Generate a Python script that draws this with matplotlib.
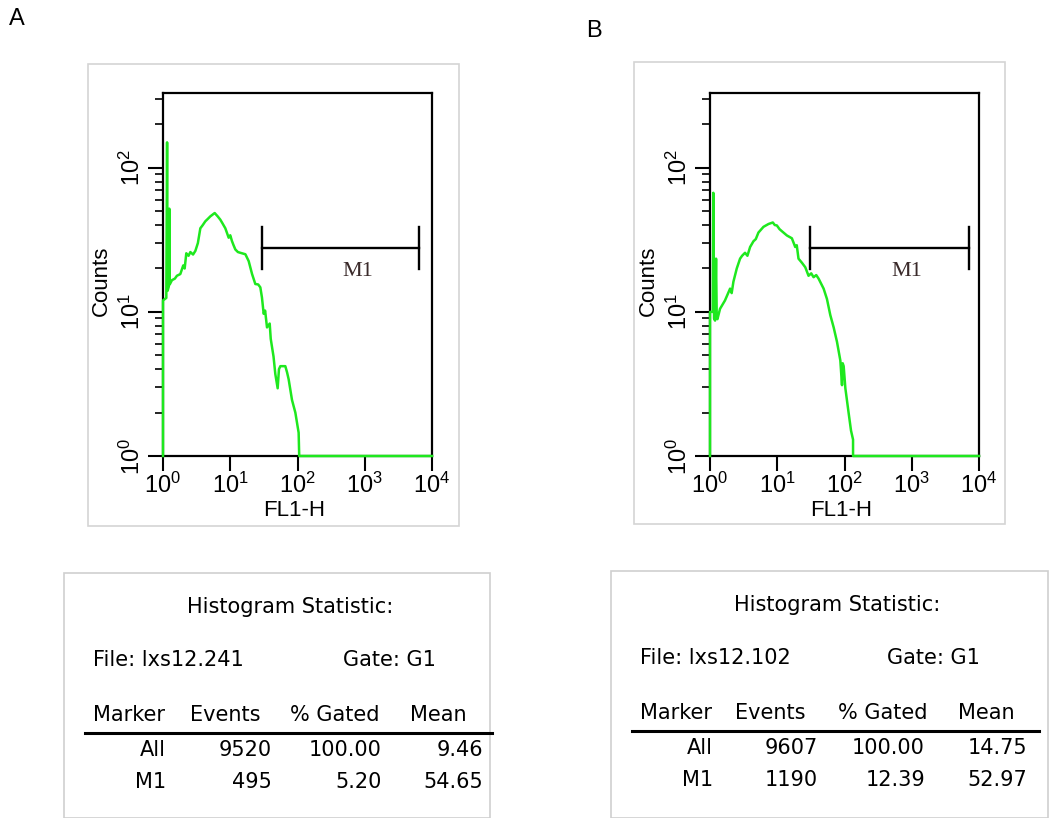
import numpy as np
import matplotlib.pyplot as plt
from matplotlib.patches import Rectangle

plt.rcParams['font.family'] = ['Liberation Sans', 'DejaVu Sans']
plt.rcParams['mathtext.fontset'] = 'custom'
plt.rcParams['mathtext.rm'] = 'Liberation Sans'
plt.rcParams['mathtext.it'] = 'Liberation Sans'

# histogram traces (FL1-H channel value, counts)
a_fl1 = [1.0, 1.0, 1.12, 1.15, 1.17, 1.22, 1.24, 1.26, 1.36, 1.5, 1.61, 1.81, 2.0, 2.1,
         2.22, 2.4, 2.55, 2.8, 3.03, 3.3, 3.59, 3.9, 4.26, 4.6, 5.06, 5.87, 6.5, 7.12,
         7.7, 8.45, 9.0, 9.47, 10.0, 10.6, 11.2, 11.9, 13.0, 14.1, 16.8, 18.8, 21.1,
         23.6, 26.0, 28.0, 29.6, 31.4, 33.0, 35.2, 38.6, 40.0, 41.8, 44.0, 46.8, 50.7,
         53.0, 55.6, 65.9, 70.0, 73.9, 82.8, 92.9, 104, 106, 10000]
a_counts = [1, 12, 12.5, 150, 14, 15, 52, 15.5, 16.6, 17, 17.8, 18.3, 21, 20, 25.5,
            24.5, 26, 25, 26.5, 30, 38, 40, 42.5, 44, 46, 48.5, 46, 43.6, 41, 38, 35,
            32.7, 34, 31, 29, 27.1, 26, 25.7, 25.1, 22.5, 18.3, 15.6, 15.5, 14.8, 12.6,
            9.7, 10.2, 7.8, 8.3, 6.5, 5.7, 4.9, 3.7, 2.95, 4.0, 4.2, 4.2, 3.8, 3.4, 2.45,
            2.0, 1.45, 1, 1]

b_fl1 = [1.0, 1.0, 1.1, 1.12, 1.15, 1.19, 1.23, 1.26, 1.29, 1.41, 1.67, 1.99, 2.1,
         2.23, 2.5, 2.8, 3.0, 3.32, 3.6, 3.95, 4.43, 4.8, 5.25, 6.24, 7.41, 8.59, 9.2,
         9.86, 10.8, 11.7, 13.9, 16.5, 18.5, 19.5, 20.7, 23.3, 26.1, 29.2, 32.0, 34.7,
         38.0, 41.2, 48.9, 54.8, 61.5, 69.0, 77.3, 86.7, 91.8, 94.0, 97.2, 103, 115,
         125, 134, 134, 10000]
b_counts = [1, 10, 10, 67, 9, 8.7, 23.4, 9, 8.9, 10.5, 12, 14.5, 13.5, 16.2, 20, 23.4,
            24.5, 25.7, 24.5, 28.2, 30.9, 32, 35.5, 38.9, 40.7, 41.7, 40, 39.8, 37.5,
            36.3, 33.9, 32.4, 28.2, 29, 23.4, 21.9, 20.4, 17.8, 18.5, 17.4, 18, 17,
            14.5, 12.3, 9.5, 7.8, 6.2, 4.6, 3.1, 4.4, 4.2, 2.95, 2.0, 1.5, 1.3, 1, 1]

# M1 marker: start, end on FL1-H, height in counts
a_m1 = [29.4, 6460, 27.6]
b_m1 = [31.0, 7100, 27.7]

# statistics tables
stat_cols = ['Marker', 'Events', '% Gated', 'Mean']
a_file = 'lxs12.241'
b_file = 'lxs12.102'
a_rows = [['All', '9520', '100.00', '9.46'], ['M1', '495', '5.20', '54.65']]
b_rows = [['All', '9607', '100.00', '14.75'], ['M1', '1190', '12.39', '52.97']]

W, H = 1050, 818
fig = plt.figure(figsize=(10.5, 8.18), dpi=100)
TFONT = 'DejaVu Sans'


def fx(px):
    return px / W


def fy(py):
    return 1 - py / H


def panel(left, fl1, counts, m1):
    ax = fig.add_axes([fx(left), fy(456), fx(269), 363 / H])
    ax.plot(fl1, counts, color='#1ee81e', lw=1.8, clip_on=False, zorder=5)
    ax.set_xscale('log')
    ax.set_yscale('log')
    ax.set_xlim(1, 1e4)
    ax.set_ylim(1, 330)
    for s in ax.spines.values():
        s.set_linewidth(1.6)
    ax.set_xticks([1, 10, 100, 1000, 10000])
    ax.set_xticklabels(['$10^0$', '$10^1$', '$10^2$', '$10^3$', '$10^4$'])
    ax.set_yticks([1, 10, 100])
    ax.set_yticklabels(['$10^0$', '$10^1$', '$10^2$'], rotation=90, va='center')
    ax.tick_params(which='major', length=11, width=1.5, labelsize=17, pad=1)
    ax.tick_params(which='minor', length=6, width=1.2)
    ax.tick_params(axis='y', which='major', pad=2)
    # M1 gate bar
    x0, x1, yh = m1
    ax.plot([x0, x1], [yh, yh], color='black', lw=1.7)
    ax.plot([x0, x0], [yh * 1.4, yh / 1.4], color='black', lw=1.7)
    ax.plot([x1, x1], [yh * 1.4, yh / 1.4], color='black', lw=1.7)
    ax.text(np.sqrt(x0 * x1) * 1.82, yh / 1.45, 'M1', family='Liberation Serif',
            fontsize=16, color='#3a2a2a', ha='center', va='center')
    return ax


def stats(left, right, top, fname, rows, hx, xs, gate_x, title_x):
    fig.patches.append(Rectangle((fx(left), 0), fx(right - left), fy(top),
                                 transform=fig.transFigure, fill=False,
                                 edgecolor='#cfcfcf', lw=1.2))
    fig.text(fx(title_x), fy(top + 34), 'Histogram Statistic:', fontsize=15,
             family=TFONT, ha='center', va='center')
    fig.text(fx(hx[0]), fy(top + 87), 'File: ' + fname, fontsize=15, family=TFONT,
             va='center')
    fig.text(fx(gate_x), fy(top + 87), 'Gate: G1', fontsize=15, family=TFONT,
             va='center')
    # header
    for c, x in zip(stat_cols, hx):
        fig.text(fx(x), fy(top + 142), c, fontsize=15, family=TFONT, va='center')
    fig.add_artist(plt.Line2D([fx(left + 21), fx(left + 428)], [fy(top + 160)] * 2,
                              color='black', lw=2.2))
    for i, r in enumerate(rows):
        yy = fy(top + 177 + i * 32)
        for v, x in zip(r, xs):
            fig.text(fx(x), yy, v, fontsize=15, family=TFONT, va='center', ha='right')


panel(163, a_fl1, a_counts, a_m1)
panel(710, b_fl1, b_counts, b_m1)

# light frames around each plot
for l, t, r, b in [(88, 64, 459, 526), (634, 62, 1005, 524)]:
    fig.patches.append(Rectangle((fx(l), fy(b)), fx(r - l), (b - t) / H,
                                 transform=fig.transFigure, fill=False,
                                 edgecolor='#d4d4d4', lw=1.2))

for x0 in [163, 710]:
    fig.text(fx(x0 + 131), fy(511), 'FL1-H', fontsize=16, va='center', ha='center')
    fig.text(fx(x0 - 62), fy(281), 'Counts', fontsize=16, rotation=90,
             va='center', ha='center')

fig.text(fx(9), fy(19), 'A', fontsize=17, va='center')
fig.text(fx(586), fy(31), 'B', fontsize=17, va='center')

stats(64, 490, 573, a_file, a_rows, [93, 190, 290, 410], [166, 272, 382, 483], 343, 290)
stats(611, 1048, 571, b_file, b_rows, [640, 735, 838, 958], [713, 818, 925, 1027], 887, 837)

fig.savefig('out.png', dpi=100)
